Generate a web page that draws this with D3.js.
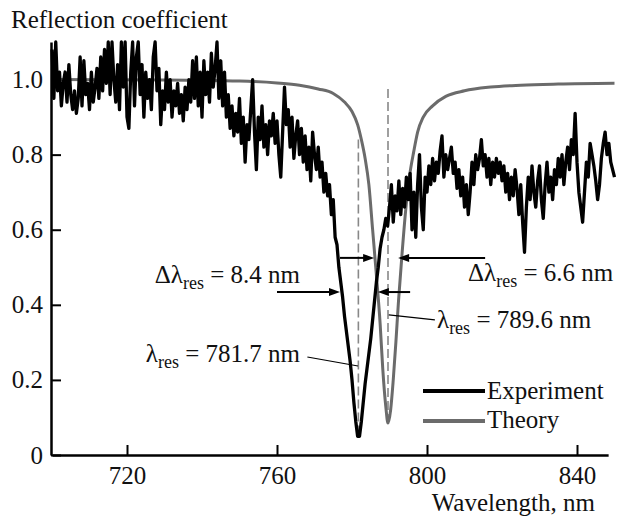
<!DOCTYPE html>
<html lang='en'>
<head>
    <title>Reflection coefficient</title>
    <meta charset='UTF-8'>
    <script src='https://d3js.org/d3.v7.min.js'></script>
    <style>
      body { margin: 0; background: #fff; }
      svg text { font-family: 'Liberation Serif', 'DejaVu Serif', 'Times New Roman', serif; fill: #111; }
    </style>
</head>
<body>
<svg width='630' height='518'></svg>

<script>
  // experiment: sampled every 0.5 nm from 700 nm
  const expStart = 700, expStep = 0.5
  const expValues = [
    1.08, 0.95, 1.10, 0.97, 1.02, 0.93, 0.99, 1.02, 0.94, 1.04,
    0.96, 0.92, 0.97, 0.91, 0.95, 1.06, 0.93, 1.05, 0.96, 0.99,
    0.92, 1.02, 0.94, 0.98, 1.03, 0.95, 1.06, 0.97, 1.08, 0.99,
    1.10, 0.96, 1.10, 1.00, 0.94, 1.04, 0.92, 1.10, 0.98, 1.10,
    0.90, 0.87, 1.02, 1.10, 0.93, 1.06, 1.10, 0.96, 1.04, 0.90,
    1.02, 0.95, 1.00, 0.92, 1.06, 1.10, 0.97, 1.03, 0.88, 0.97,
    0.92, 1.02, 0.94, 1.00, 0.90, 0.97, 0.93, 0.99, 0.91, 0.96,
    0.89, 0.98, 0.92, 1.00, 0.94, 1.05, 0.95, 1.06, 0.93, 1.02,
    0.90, 1.05, 0.96, 1.02, 0.94, 1.07, 0.98, 1.03, 1.10, 0.95,
    1.05, 0.93, 1.02, 0.90, 0.96, 0.87, 0.93, 0.85, 0.91, 0.86,
    0.95, 0.83, 0.90, 0.78, 0.88, 0.84, 0.92, 1.00, 0.86, 0.76,
    0.90, 0.84, 0.93, 0.82, 0.88, 0.80, 0.89, 0.85, 0.91, 0.83,
    0.89, 0.80, 0.74, 0.86, 0.98, 0.88, 0.92, 0.82, 0.90, 0.79,
    0.85, 0.89, 0.80, 0.87, 0.78, 0.85, 0.76, 0.82, 0.73, 0.86,
    0.80, 0.76, 0.82, 0.74, 0.78, 0.70, 0.75, 0.69, 0.72, 0.64,
    0.68, 0.58, 0.56, 0.50, 0.46, 0.42, 0.37, 0.33, 0.29, 0.25,
    0.20, 0.14, 0.09, 0.05, 0.05, 0.09, 0.14, 0.19, 0.23, 0.27,
    0.31, 0.36, 0.41, 0.46, 0.50, 0.55, 0.58, 0.60, 0.63, 0.61,
    0.66, 0.72, 0.62, 0.69, 0.65, 0.73, 0.64, 0.71, 0.66, 0.74,
    0.68, 0.75, 0.60, 0.70, 0.58, 0.72, 0.80, 0.66, 0.60, 0.74,
    0.70, 0.77, 0.72, 0.79, 0.73, 0.78, 0.75, 0.81, 0.85, 0.74,
    0.80, 0.76, 0.79, 0.82, 0.75, 0.78, 0.71, 0.76, 0.69, 0.74,
    0.66, 0.72, 0.64, 0.70, 0.78, 0.72, 0.80, 0.76, 0.79, 0.84,
    0.77, 0.80, 0.74, 0.79, 0.72, 0.78, 0.74, 0.79, 0.75, 0.78,
    0.73, 0.77, 0.70, 0.75, 0.68, 0.74, 0.69, 0.76, 0.71, 0.64,
    0.72, 0.62, 0.54, 0.66, 0.74, 0.68, 0.77, 0.70, 0.66, 0.73,
    0.77, 0.68, 0.63, 0.72, 0.78, 0.70, 0.74, 0.68, 0.76, 0.72,
    0.79, 0.74, 0.80, 0.72, 0.78, 0.82, 0.76, 0.84, 0.80, 0.91,
    0.78, 0.70, 0.66, 0.62, 0.70, 0.78, 0.74, 0.83, 0.80, 0.77,
    0.73, 0.68, 0.72, 0.79, 0.83, 0.86, 0.80, 0.83, 0.78, 0.76,
    0.74
  ]

  const theoryWl = [700, 730, 750, 760, 766, 771, 775, 778, 780, 781.5, 782.5, 783.5, 784.5,
    785.5, 786.5, 787.5, 788.2, 789, 789.6, 790.3, 791, 791.7, 792.4, 793.3, 794.3, 795.3,
    796.5, 797.5, 799, 801.5, 805, 810, 817, 825, 835, 850]
  const theoryValues = [1.0, 0.999, 0.996, 0.991, 0.985, 0.975, 0.963, 0.94, 0.915, 0.88, 0.84, 0.79, 0.72,
    0.6, 0.48, 0.35, 0.23, 0.13, 0.085, 0.12, 0.2, 0.3, 0.41, 0.53, 0.65, 0.74,
    0.81, 0.86, 0.9, 0.93, 0.955, 0.97, 0.98, 0.985, 0.988, 0.99]

  const xTicks = [720, 760, 800, 840]
  const yTicks = [0, 0.2, 0.4, 0.6, 0.8, 1.0]

  const resExp = 781.7, resTheory = 789.6

  const serif = "'Liberation Serif', 'DejaVu Serif', 'Times New Roman', serif"
  const fs = 25

  let svg = d3.select('svg')

  let x = d3.scaleLinear().domain([700, 850]).range([52, 614.5])
  let y = d3.scaleLinear().domain([0, 1.1]).range([455, 42])

  let expData = expValues.map((v, i) => ({wl: expStart + i * expStep, v: v}))
  let theoryData = theoryWl.map((w, i) => ({wl: w, v: theoryValues[i]}))

  // dashed resonance markers
  svg.append('line')
    .attr('x1', x(resExp)).attr('x2', x(resExp))
    .attr('y1', y(0.84)).attr('y2', y(0.05))
    .attr('stroke', '#888').attr('stroke-width', 1.6).attr('stroke-dasharray', '9,4')
  svg.append('line')
    .attr('x1', x(resTheory)).attr('x2', x(resTheory))
    .attr('y1', y(0.975)).attr('y2', y(0.09))
    .attr('stroke', '#888').attr('stroke-width', 1.6).attr('stroke-dasharray', '9,4')

  let line = d3.line().x(d => x(d.wl)).y(d => y(d.v))

  svg.append('path')
    .datum(theoryData)
    .attr('fill', 'none').attr('stroke', '#6b6b6b').attr('stroke-width', 3)
    .attr('d', line.curve(d3.curveMonotoneX))

  svg.append('path')
    .datum(expData)
    .attr('fill', 'none').attr('stroke', '#000').attr('stroke-width', 3.3)
    .attr('stroke-linejoin', 'round')
    .attr('d', line.curve(d3.curveLinear))

  // axes
  let xAxisScale = x.copy().domain([700, 848.3]).range([x(700), x(848.3)])
  svg.append('g')
    .attr('transform', `translate(0,${y(0)})`)
    .call(d3.axisBottom(xAxisScale).tickValues(xTicks).tickSizeInner(-10).tickSizeOuter(0).tickPadding(11))
  svg.append('g')
    .attr('transform', `translate(${x(700) - 1},0)`)
    .call(d3.axisLeft(y).tickValues(yTicks).tickSizeInner(-10).tickSizeOuter(0).tickPadding(8)
      .tickFormat(d => d === 0 ? '0' : d.toFixed(1)))

  svg.selectAll('.domain').attr('stroke', '#000').attr('stroke-width', 2.5)
  svg.selectAll('.tick line').attr('stroke', '#000').attr('stroke-width', 2)
  svg.selectAll('.tick text')
    .attr('font-family', serif).attr('font-size', fs).attr('fill', '#111')

  svg.append('text').attr('x', 11).attr('y', 28).attr('font-family', serif).attr('font-size', fs)
    .text('Reflection coefficient')
  svg.append('text').attr('x', 595).attr('y', 511).attr('text-anchor', 'end')
    .attr('font-family', serif).attr('font-size', fs).text('Wavelength, nm')

  // FWHM arrows
  function arrow(from, to, level) {
    let x1 = x(from), x2 = x(to), yy = y(level)
    let dir = x2 > x1 ? 1 : -1
    svg.append('line')
      .attr('x1', x1).attr('x2', x2 - dir * 8).attr('y1', yy).attr('y2', yy)
      .attr('stroke', '#000').attr('stroke-width', 2)
    svg.append('path')
      .attr('d', `M${x2},${yy} L${x2 - dir * 11},${yy - 4} L${x2 - dir * 11},${yy + 4} Z`)
      .attr('fill', '#000')
  }
  arrow(760, 776.8, 0.434)
  arrow(795.5, 786.9, 0.434)
  arrow(776.8, 785.9, 0.525)
  arrow(815.5, 792.3, 0.525)

  // leader lines
  svg.append('line')
    .attr('x1', x(768.1)).attr('y1', y(0.261)).attr('x2', x(781.6)).attr('y2', y(0.237))
    .attr('stroke', '#000').attr('stroke-width', 1.2)
  svg.append('line')
    .attr('x1', x(802.1)).attr('y1', y(0.36)).attr('x2', x(789.8)).attr('y2', y(0.373))
    .attr('stroke', '#000').attr('stroke-width', 1.2)

  function label(px, py, anchor, prefix, value) {
    let t = svg.append('text').attr('x', px).attr('y', py).attr('text-anchor', anchor)
      .attr('font-family', serif).attr('font-size', fs)
    t.append('tspan').text(prefix + 'λ')
    t.append('tspan').attr('font-size', 18).attr('dy', 6).text('res')
    t.append('tspan').attr('dy', -6).text(' = ' + value + ' nm')
  }
  label(300, 283, 'end', 'Δ', '8.4')
  label(300, 362, 'end', '', '781.7')
  label(468, 281, 'start', 'Δ', '6.6')
  label(437, 328, 'start', '', '789.6')

  // legend
  svg.append('line').attr('x1', 423).attr('x2', 485).attr('y1', 391).attr('y2', 391)
    .attr('stroke', '#000').attr('stroke-width', 4)
  svg.append('line').attr('x1', 423).attr('x2', 485).attr('y1', 421).attr('y2', 421)
    .attr('stroke', '#6b6b6b').attr('stroke-width', 4)
  svg.append('text').attr('x', 487).attr('y', 399).attr('font-family', serif).attr('font-size', fs).text('Experiment')
  svg.append('text').attr('x', 487).attr('y', 428).attr('font-family', serif).attr('font-size', fs).text('Theory')
</script>
</body>
</html>
